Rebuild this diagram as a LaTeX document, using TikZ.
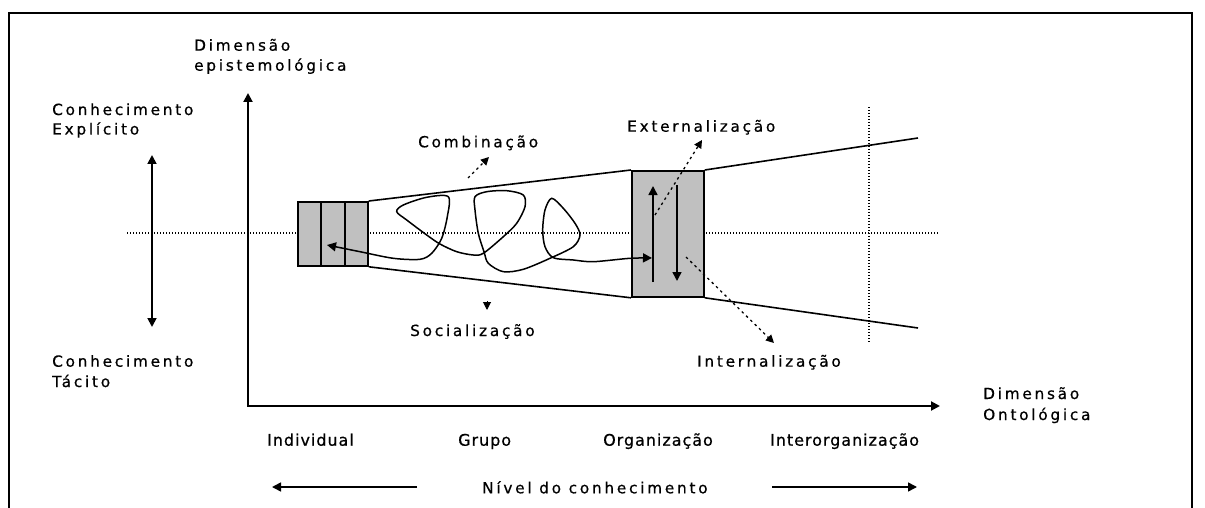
\documentclass[tikz,border=0pt]{standalone}
\usepackage{fontspec}
\setmainfont{DejaVu Sans}
\newfontfamily\spfont[LetterSpace=18,FakeBold=0.6]{DejaVu Sans}
\newfontfamily\plfont[LetterSpace=6,FakeBold=0.6]{DejaVu Sans}
\usetikzlibrary{arrows.meta,calc}
\definecolor{boxgray}{RGB}{192,192,192}
\begin{document}
\begin{tikzpicture}[x=1pt,y=-1pt,
  sp/.style={font=\spfont\fontsize{15.3}{18}\selectfont, inner sep=0pt, anchor=base west},
  pl/.style={font=\plfont\fontsize{16}{20}\selectfont, inner sep=0pt, anchor=base west},
  ar/.style={-{Triangle[length=9pt,width=9pt]}},
  dar/.style={{Triangle[length=9pt,width=9pt]}-{Triangle[length=9pt,width=9pt]}},
  sar/.style={-{Triangle[length=8pt,width=8pt]}},
  dots/.style={line width=1.1pt, dash pattern=on 1.1pt off 1.9pt},
  sparse/.style={line width=1.3pt, dash pattern=on 2.5pt off 3.5pt},
  box/.style={draw, fill=boxgray, line width=1.8pt, inner sep=0pt, anchor=north west}
]
\useasboundingbox (0,0) rectangle (1205,508);
% frame
\draw[line width=1.7pt] (9,508) -- (9,13) -- (1192,13) -- (1192,508);

% dotted guide lines
\coordinate (hl) at (127,233);
\coordinate (hr) at (938,233);
\coordinate (vt) at (869,107);
\coordinate (vb) at (869,343);
\draw[dots] (hl) -- (hr);
\draw[dots] (vt) -- (vb);

% axes
\coordinate (ytop) at (248,93);
\coordinate (orig) at (248,406);
\coordinate (xend) at (940,406);
\draw[line width=2pt, dar] (ytop) -- (orig) -- (xend);

% explicit / tacit arrow
\coordinate (ea) at (152,155);
\coordinate (ta) at (152,327);
\draw[line width=1.8pt, dar] (ea) -- (ta);

% boxes
\node[box, minimum width=70pt, minimum height=64pt] (ind) at (297,201) {};
\node[box, minimum width=72pt, minimum height=126pt] (org) at (631,170) {};
\draw[line width=1.8pt] ($(ind.north west)!1/3!(ind.north east)$) -- ($(ind.south west)!1/3!(ind.south east)$);
\draw[line width=1.8pt] ($(ind.north west)!2/3!(ind.north east)$) -- ($(ind.south west)!2/3!(ind.south east)$);

% cone lines
\coordinate (ct) at (918,138);
\coordinate (cb) at (918,328);
\draw[line width=1.6pt] (ind.north east) -- (org.north west);
\draw[line width=1.6pt] (ind.south east) -- (org.south west);
\draw[line width=1.6pt] (org.north east) -- (ct);
\draw[line width=1.6pt] (org.south east) -- (cb);

% arrows inside organisation box
\coordinate (u1) at (653,282);
\coordinate (u2) at (653,186);
\coordinate (d1) at (677,185);
\coordinate (d2) at (677,281);
\draw[line width=1.6pt, ar] (u1) -- (u2);
\draw[line width=1.6pt, ar] (d1) -- (d2);

% spiral
\draw[line width=1.5pt, dar] plot[smooth, tension=0.5] coordinates {
 (327,245) (360,251.7) (393.3,258.3) (420,259.3) (431.7,253.3) (441.7,238.3)
 (447.3,216.7) (448.3,196.7) (426.7,197.3) (403.3,205) (396.7,211.7) (406.7,220)
 (426.7,235) (440,244) (456.7,251.7) (473.3,255) (483.3,253.3) (503.3,236.7)
 (516.7,223.3) (525,206.7) (523.3,195) (506.7,190.7) (486.7,191.7) (475,196.7)
 (475,210) (478.3,233.3) (484,251.7) (488.3,263.3) (503.3,271.7) (523.3,269.3)
 (550,258.3) (573.3,246.7) (580,235) (575,223.3) (563.3,208.3) (551.7,198.3)
 (545,210) (542.7,230) (545,246.7) (553.3,257.7) (573.3,260) (593.3,261.7)
 (630,258.3) (652,258)};

% dotted process arrows
\coordinate (cb1) at (468,178);
\coordinate (cb2) at (489,157);
\draw[sparse, sar] (cb1) -- (cb2);
\coordinate (ex1) at (655,215);
\coordinate (ex2) at (702,140);
\draw[sparse, sar] (ex1) -- (ex2);
\coordinate (in1) at (686,257);
\coordinate (in2) at (774,343);
\draw[sparse, sar] (in1) -- (in2);
\coordinate (so1) at (487,301);
\coordinate (so2) at (487,310);
\draw[line width=1pt, sar] (so1) -- (so2);

% labels
\node[sp] (dim1) at (194,50.7) {Dimensão};
\node[sp] (dim2) at (194,70.7) {epistemológica};
\node[sp] (ce1) at (52,115) {Conhecimento};
\node[sp] (ce2) at (52,134.5) {Explícito};
\node[sp] (ct1) at (52,366.7) {Conhecimento};
\node[sp] (ct2) at (52,387) {Tácito};
\node[sp] (comb) at (418,147.3) {Combinação};
\node[sp] (ext) at (627,131.7) {Externalização};
\node[sp] (soc) at (410,336) {Socialização};
\node[sp] (int) at (697,366.7) {Internalização};
\node[sp] (ont1) at (983,399) {Dimensão};
\node[sp] (ont2) at (983,420) {Ontológica};

\node[pl] (lv1) at (267,445.7) {Individual};
\node[pl] (lv2) at (458,445.7) {Grupo};
\node[pl] (lv3) at (603,445.7) {Organização};
\node[pl] (lv4) at (770,445.7) {Interorganização};

\node[sp] (niv) at (482,493.3) {Nível do conhecimento};
\coordinate (nl1) at (417,487);
\coordinate (nl2) at (272,487);
\coordinate (nr1) at (772,487);
\coordinate (nr2) at (917,487);
\draw[line width=1.6pt, ar] (nl1) -- (nl2);
\draw[line width=1.6pt, ar] (nr1) -- (nr2);
\end{tikzpicture}
\end{document}
